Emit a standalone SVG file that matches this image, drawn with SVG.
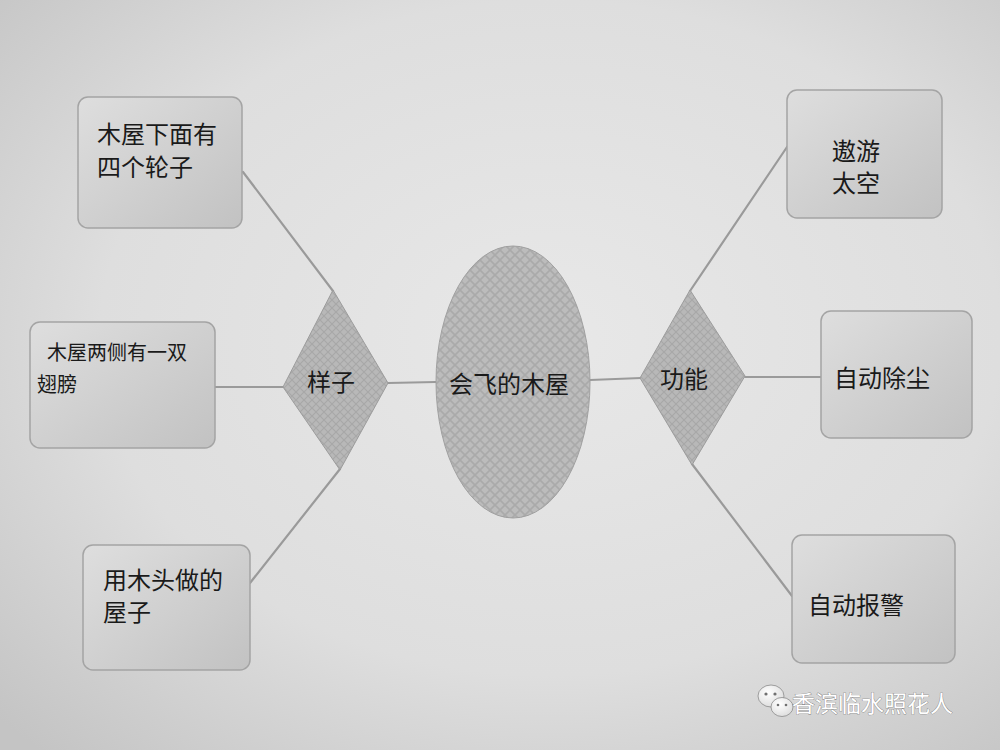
<svg xmlns="http://www.w3.org/2000/svg" width="1000" height="750" viewBox="0 0 1000 750">
<defs>
<radialGradient id="paper" cx="0.55" cy="0.45" r="0.75">
<stop offset="0" stop-color="#e8e8e8"/>
<stop offset="0.6" stop-color="#dedede"/>
<stop offset="1" stop-color="#c4c4c4"/>
</radialGradient>
<linearGradient id="boxg" x1="0" y1="0" x2="1" y2="1">
<stop offset="0" stop-color="#dedede"/>
<stop offset="1" stop-color="#c2c2c2"/>
</linearGradient>
<pattern id="hatch" width="8" height="8" patternUnits="userSpaceOnUse">
<rect width="8" height="8" fill="#b8b8b8"/>
<path d="M0 0L8 8M8 0L0 8" stroke="#a8a8a8" stroke-width="1.2"/>
</pattern>
<pattern id="hatch2" width="10" height="10" patternUnits="userSpaceOnUse">
<rect width="10" height="10" fill="#bcbcbc"/>
<path d="M0 0L10 10M10 0L0 10" stroke="#aaaaaa" stroke-width="1.6"/>
</pattern>
<radialGradient id="bubble" cx="0.4" cy="0.35" r="0.7">
<stop offset="0" stop-color="#ffffff"/>
<stop offset="1" stop-color="#dcdcdc"/>
</radialGradient>
</defs>
<style>
.box{fill:url(#boxg);stroke:#a4a4a4;stroke-width:1.5}
.dia{fill:url(#hatch);stroke:#9c9c9c;stroke-width:1}
.t{font-family:"Noto Sans CJK SC","Noto Sans",sans-serif;font-size:24px;fill:#1a1a1a}
.s{font-size:20px}
.conn line{stroke:#9a9a9a;stroke-width:2.2;stroke-linecap:round}
.wm{font-family:"Noto Sans CJK SC","Noto Sans",sans-serif;font-size:23px;fill:#ffffff;stroke:#707070;stroke-width:0.6;paint-order:stroke}
</style>
<rect width="1000" height="750" fill="url(#paper)"/>

<g id="connectors" class="conn">
<line x1="243" y1="172" x2="333" y2="291"/>
<line x1="215" y1="387" x2="284" y2="387"/>
<line x1="250" y1="583" x2="340" y2="469"/>
<line x1="388" y1="383" x2="436" y2="382"/>
<line x1="590" y1="380" x2="641" y2="378"/>
<line x1="690" y1="291" x2="787" y2="147"/>
<line x1="745" y1="377" x2="821" y2="377"/>
<line x1="692" y1="464" x2="792" y2="596"/>
</g>

<g id="n1">
<rect class="box" x="78" y="97" width="164" height="131" rx="10"/>
<text class="t" x="97" y="143">木屋下面有</text>
<text class="t" x="97" y="176">四个轮子</text>
</g>
<g id="n2">
<rect class="box" x="30" y="322" width="185" height="126" rx="10"/>
<text class="t s" x="47" y="360">木屋两侧有一双</text>
<text class="t s" x="37" y="392">翅膀</text>
</g>
<g id="n3">
<rect class="box" x="83" y="545" width="167" height="125" rx="10"/>
<text class="t" x="103" y="589">用木头做的</text>
<text class="t" x="103" y="621">屋子</text>
</g>
<g id="d1">
<polygon class="dia" points="333,290 388,383 340,470 283,387"/>
<text class="t" x="307" y="391">样子</text>
</g>
<g id="center">
<ellipse cx="513" cy="382" rx="77" ry="136" fill="url(#hatch2)" stroke="#a0a0a0" stroke-width="1"/>
<text class="t" x="449" y="393">会飞的木屋</text>
</g>
<g id="d2">
<polygon class="dia" points="690,290 745,376 692,465 640,378"/>
<text class="t" x="660" y="388">功能</text>
</g>
<g id="n4">
<rect class="box" x="787" y="90" width="155" height="128" rx="10"/>
<text class="t" x="832" y="160">遨游</text>
<text class="t" x="832" y="192">太空</text>
</g>
<g id="n5">
<rect class="box" x="821" y="311" width="151" height="127" rx="10"/>
<text class="t" x="834" y="387">自动除尘</text>
</g>
<g id="n6">
<rect class="box" x="792" y="535" width="163" height="128" rx="10"/>
<text class="t" x="808" y="614">自动报警</text>
</g>

<g id="watermark">
<ellipse cx="771" cy="696" rx="13" ry="11" fill="url(#bubble)" stroke="#8a8a8a" stroke-width="0.8"/>
<ellipse cx="782" cy="707" rx="11" ry="9.5" fill="url(#bubble)" stroke="#8a8a8a" stroke-width="0.8"/>
<circle cx="766" cy="694" r="1.6" fill="#707070"/>
<circle cx="775" cy="694" r="1.6" fill="#707070"/>
<circle cx="778" cy="705" r="1.3" fill="#707070"/>
<circle cx="786" cy="705" r="1.3" fill="#707070"/>
<text class="wm" x="792" y="712">香滨临水照花人</text>
</g>
</svg>
